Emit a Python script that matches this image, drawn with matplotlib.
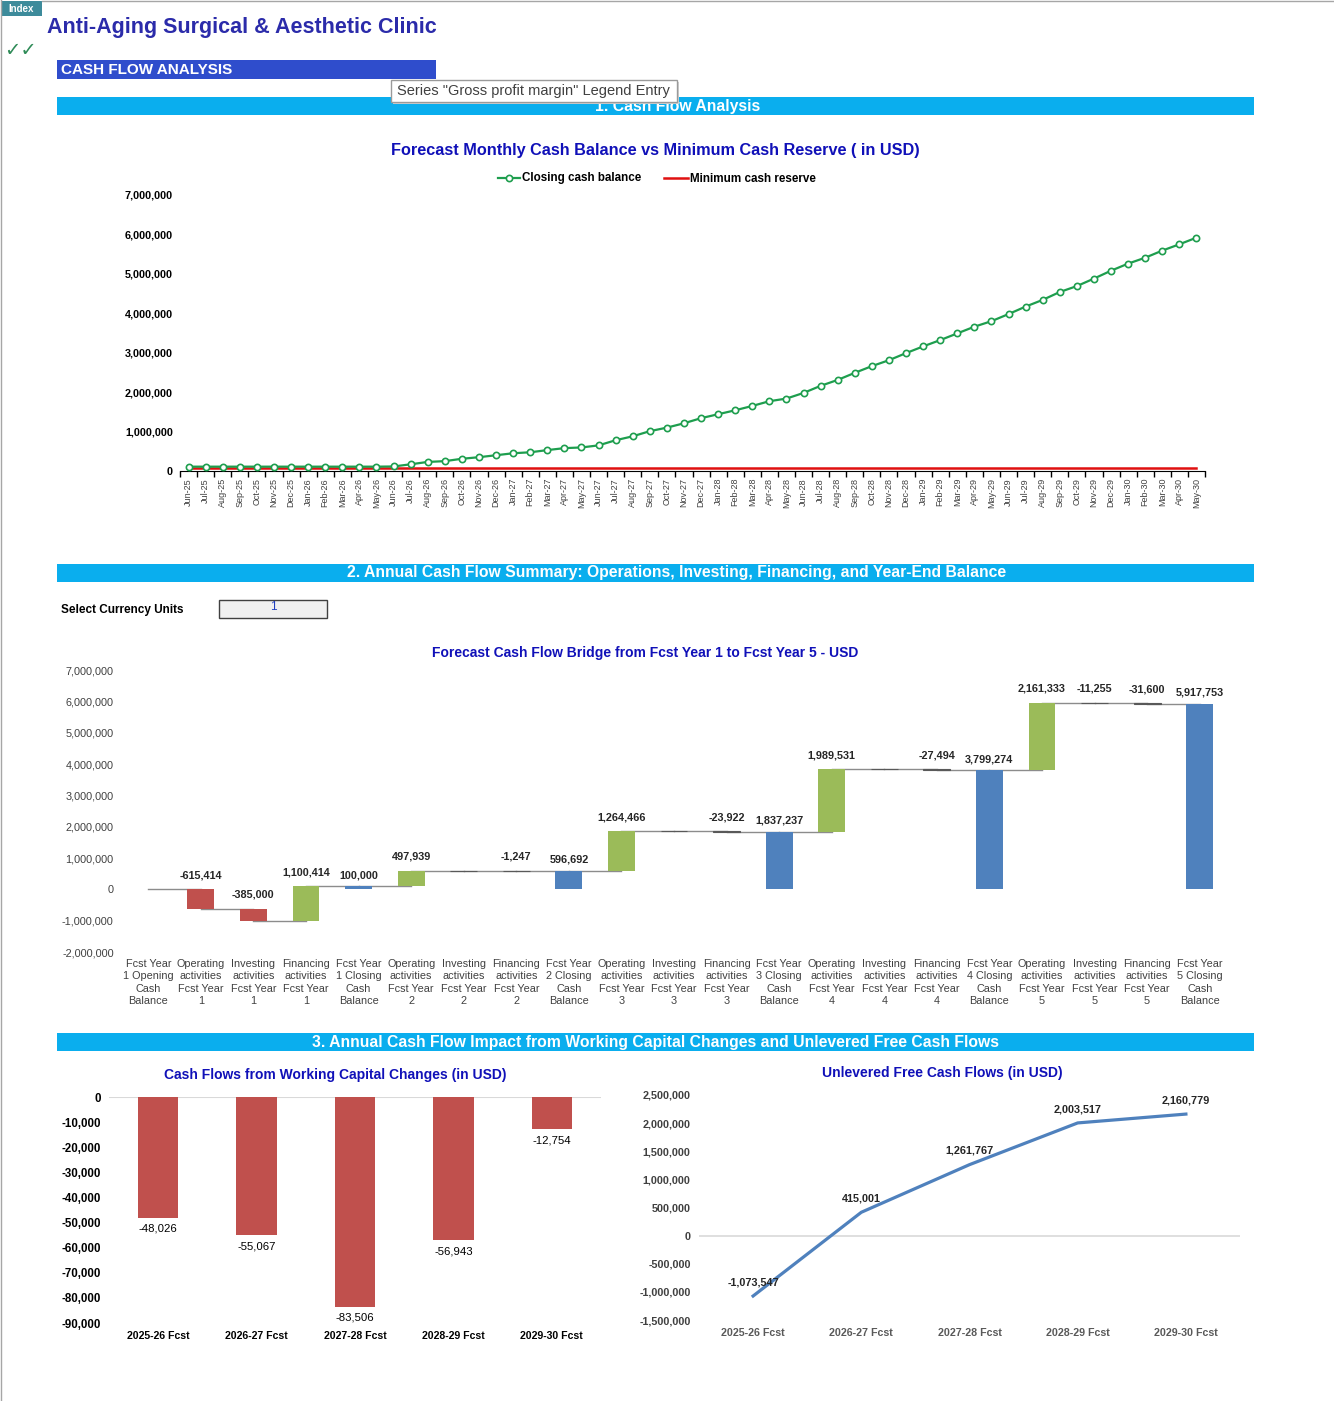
import numpy as np
import pandas as pd
import matplotlib
matplotlib.use('Agg')
import matplotlib.pyplot as plt
from matplotlib.patches import Rectangle
from matplotlib.ticker import FuncFormatter

plt.rcParams['font.family'] = ['Liberation Sans', 'DejaVu Sans']

# ---- data ----
months = list(pd.date_range('2025-06-01', periods=60, freq='MS').strftime('%b-%y'))
closing_cash = [
    110000, 110000, 110000, 110000, 110000, 110000, 110000, 110000, 110000, 110000, 110000, 110000,
    115000, 170000, 230000, 250000, 310000, 350000, 400000, 450000, 475000, 530000, 580000, 597000,
    650000, 780000, 880000, 1010000, 1100000, 1210000, 1340000, 1440000, 1540000, 1650000, 1770000, 1837000,
    1980000, 2160000, 2310000, 2490000, 2660000, 2810000, 2990000, 3160000, 3320000, 3490000, 3660000, 3800000,
    3980000, 4170000, 4340000, 4540000, 4690000, 4880000, 5080000, 5260000, 5410000, 5590000, 5750000, 5918000,
]
min_reserve = [75000] * 60

bridge_labels = [
    'Fcst Year\n1 Opening\nCash\nBalance', 'Operating\nactivities\nFcst Year\n1', 'Investing\nactivities\nFcst Year\n1',
    'Financing\nactivities\nFcst Year\n1', 'Fcst Year\n1 Closing\nCash\nBalance',
    'Operating\nactivities\nFcst Year\n2', 'Investing\nactivities\nFcst Year\n2', 'Financing\nactivities\nFcst Year\n2',
    'Fcst Year\n2 Closing\nCash\nBalance',
    'Operating\nactivities\nFcst Year\n3', 'Investing\nactivities\nFcst Year\n3', 'Financing\nactivities\nFcst Year\n3',
    'Fcst Year\n3 Closing\nCash\nBalance',
    'Operating\nactivities\nFcst Year\n4', 'Investing\nactivities\nFcst Year\n4', 'Financing\nactivities\nFcst Year\n4',
    'Fcst Year\n4 Closing\nCash\nBalance',
    'Operating\nactivities\nFcst Year\n5', 'Investing\nactivities\nFcst Year\n5', 'Financing\nactivities\nFcst Year\n5',
    'Fcst Year\n5 Closing\nCash\nBalance',
]
bridge_values = [0, -615414, -385000, 1100414, 100000, 497939, 0, -1247, 596692,
                 1264466, 0, -23922, 1837237, 1989531, 0, -27494, 3799274,
                 2161333, -11255, -31600, 5917753]
bridge_total = [True, False, False, False, True, False, False, False, True,
                False, False, False, True, False, False, False, True,
                False, False, False, True]

years = ['2025-26 Fcst', '2026-27 Fcst', '2027-28 Fcst', '2028-29 Fcst', '2029-30 Fcst']
wc_changes = [-48026, -55067, -83506, -56943, -12754]
ufcf = [-1073547, 415001, 1261767, 2003517, 2160779]

# ---- figure / layout helpers ----
W, H = 1334, 1401
fig = plt.figure(figsize=(W / 100, H / 100), dpi=100)


def box(x0, y0, x1, y1):
    return [x0 / W, 1 - y1 / H, (x1 - x0) / W, (y1 - y0) / H]


fmt = FuncFormatter(lambda v, p: '{:,.0f}'.format(v))
title_blue = '#1010B8'
cyan = '#0AAEEE'

bg = fig.add_axes([0, 0, 1, 1])
bg.set_xlim(0, W)
bg.set_ylim(H, 0)
bg.axis('off')

# sheet decorations
bg.plot([0.5, 0.5], [0, H], color='#A6A6A6', lw=1)
bg.plot([42, W], [0.5, 0.5], color='#A6A6A6', lw=1)
bg.add_patch(Rectangle((1, 1), 41, 15, fc='#3D8B9B', ec='none'))
bg.text(21, 9, 'Index', color='white', fontsize=7, fontweight='bold', ha='center', va='center')
bg.text(47, 27, 'Anti-Aging Surgical & Aesthetic Clinic', color='#2B2BAA', fontsize=15.5,
        fontweight='bold', va='center')
bg.text(4, 50, '\u2713\u2713', color='#2E8B57', fontsize=14, va='center', family='DejaVu Sans')
bg.add_patch(Rectangle((57, 60), 379, 19, fc='#2F4DCC', ec='none'))
bg.text(61, 70, 'CASH FLOW ANALYSIS', color='white', fontsize=11, fontweight='bold', va='center')

sections = [(97, 678, '1. Cash Flow Analysis'),
            (564, 677, '2. Annual Cash Flow Summary: Operations, Investing, Financing, and Year-End Balance'),
            (1033, 656, '3. Annual Cash Flow Impact from Working Capital Changes and Unlevered Free Cash Flows')]
for y, xc, txt in sections:
    bg.add_patch(Rectangle((57, y), 1197, 18, fc=cyan, ec='none'))
    bg.text(xc, y + 9, txt, color='white', fontsize=11.3, fontweight='bold', ha='center', va='center')

# tooltip
bg.add_patch(Rectangle((393, 82), 286, 22, fc='#D0D0D0', ec='none', zorder=4))
bg.add_patch(Rectangle((391, 80), 286, 22, fc='white', ec='#9A9A9A', lw=1, zorder=5))
bg.text(397, 91.5, 'Series "Gross profit margin" Legend Entry', color='#404040', fontsize=10.5,
        va='center', zorder=6)

# chart titles
bg.text(655, 151, 'Forecast Monthly Cash Balance vs Minimum Cash Reserve ( in USD)', color=title_blue,
        fontsize=11.7, fontweight='bold', ha='center', va='center')
bg.text(645, 653, 'Forecast Cash Flow Bridge from Fcst Year 1 to Fcst Year 5 - USD', color=title_blue,
        fontsize=10, fontweight='bold', ha='center', va='center')
bg.text(335, 1075, 'Cash Flows from Working Capital Changes (in USD)', color=title_blue,
        fontsize=10, fontweight='bold', ha='center', va='center')
bg.text(942, 1073, 'Unlevered Free Cash Flows (in USD)', color=title_blue,
        fontsize=10, fontweight='bold', ha='center', va='center')

# legend chart 1
green = '#1E9E4E'
red = '#E01010'
bg.plot([498, 520], [178, 178], color=green, lw=1.6)
bg.plot([509], [178], marker='o', ms=4.5, mfc='white', mec=green, mew=1.2)
bg.text(522, 178.5, 'Closing cash balance', fontsize=8.4, fontweight='bold', va='center')
bg.plot([664, 688], [178, 178], color=red, lw=1.8)
bg.text(690, 178.5, 'Minimum cash reserve', fontsize=8.4, fontweight='bold', va='center')

# currency selector
bg.text(61, 610, 'Select Currency Units', fontsize=8.5, fontweight='bold', va='center')
bg.add_patch(Rectangle((219, 600), 108, 18, fc='#F0F0F0', ec='#404040', lw=1))
bg.text(273, 607.5, '1', color='#1F3FBF', fontsize=8.5, ha='center', va='center')

# ---- chart 1: monthly cash balance ----
ax1 = fig.add_axes(box(180, 195, 1205, 471))
x = np.arange(len(months))
ax1.plot(x, min_reserve, color=red, lw=1.8, zorder=2)
ax1.plot(x, closing_cash, color=green, lw=1.6, marker='o', ms=4.5, mfc='white', mec=green,
         mew=1.2, zorder=3, clip_on=False)
ax1.set_xlim(-0.5, len(months) - 0.5)
ax1.set_ylim(0, 7000000)
ax1.set_yticks(np.arange(0, 7000001, 1000000))
ax1.yaxis.set_major_formatter(fmt)
ax1.set_xticks(x)
ax1.set_xticklabels(months, rotation=90, fontsize=6.5, color='#404040')
ax1.set_xticks(np.arange(-0.5, len(months), 1), minor=True)
ax1.tick_params(axis='x', which='major', length=0, pad=5)
ax1.tick_params(axis='x', which='minor', length=4, color='black', width=1)
ax1.tick_params(axis='y', length=0, pad=5, labelsize=7.8)
for lab in ax1.get_yticklabels():
    lab.set_fontweight('bold')
for s in ['left', 'top', 'right']:
    ax1.spines[s].set_visible(False)
ax1.spines['bottom'].set_color('black')
ax1.patch.set_alpha(0)

# ---- chart 2: cash flow bridge ----
ax2 = fig.add_axes(box(122, 670, 1226, 952))
running = 0
levels = []
for i, (v, tot) in enumerate(zip(bridge_values, bridge_total)):
    if tot:
        bottom = 0
        running = v
        col = '#4F81BD'
    else:
        bottom = running
        running += v
        col = '#9BBB59' if v >= 0 else '#C0504D'
    levels.append(running)
    if i == 0:
        continue
    if abs(v) < 50000:
        # tiny movements show up as a dark sliver on the connector
        ax2.bar(i, v, bottom=bottom, width=0.51, color='#595959', edgecolor='#595959', lw=0.8, zorder=3)
    else:
        ax2.bar(i, v, bottom=bottom, width=0.51, color=col, zorder=3)
    if v != 0:
        top = max(bottom, bottom + v)
        off = 8 if tot else 10
        ax2.annotate('{:,.0f}'.format(v), (i, top), xytext=(0, off), textcoords='offset points',
                     ha='center', va='center', fontsize=7.8, fontweight='bold', color='#262626')
for i in range(len(levels) - 1):
    ax2.plot([i, i + 1], [levels[i], levels[i]], color='#8C8C8C', lw=1, zorder=2)
ax2.set_xlim(-0.5, len(bridge_values) - 0.5)
ax2.set_ylim(-2000000, 7000000)
ax2.set_yticks(np.arange(-2000000, 7000001, 1000000))
ax2.yaxis.set_major_formatter(fmt)
ax2.set_xticks(np.arange(len(bridge_labels)))
ax2.set_xticklabels(bridge_labels, fontsize=7.8, color='#404040', linespacing=1.3)
ax2.tick_params(axis='x', length=0, pad=5)
ax2.tick_params(axis='y', length=0, pad=6, labelsize=7.8, labelcolor='#404040')
for s in ax2.spines.values():
    s.set_visible(False)
ax2.patch.set_alpha(0)

# ---- chart 3: working capital changes ----
ax3 = fig.add_axes(box(109, 1097, 601, 1323))
xi = np.arange(len(years))
ax3.axhline(0, color='#D9D9D9', lw=1.5, zorder=1)
ax3.bar(xi, wc_changes, width=0.41, color='#C0504D', zorder=2)
for i, v in enumerate(wc_changes):
    ax3.annotate('{:,.0f}'.format(v), (i, v), xytext=(0, -8), textcoords='offset points',
                 ha='center', va='center', fontsize=8.2, color='black')
ax3.set_xlim(-0.5, len(years) - 0.5)
ax3.set_ylim(-90000, 0)
ax3.set_yticks(np.arange(-90000, 1, 10000))
ax3.yaxis.set_major_formatter(fmt)
ax3.set_xticks(xi)
ax3.set_xticklabels(years, fontsize=7.6, fontweight='bold')
ax3.tick_params(axis='x', length=0, pad=6)
ax3.tick_params(axis='y', length=0, pad=6, labelsize=8.3)
for lab in ax3.get_yticklabels():
    lab.set_fontweight('bold')
for s in ax3.spines.values():
    s.set_visible(False)
ax3.patch.set_alpha(0)

# ---- chart 4: unlevered free cash flows ----
ax4 = fig.add_axes(box(699, 1095, 1240, 1320))
ax4.axhline(0, color='#D9D9D9', lw=1.2, zorder=1)
ax4.plot(xi, ufcf, color='#4F81BD', lw=2.3, zorder=2)
for i, v in enumerate(ufcf):
    ax4.annotate('{:,.0f}'.format(v), (i, v), xytext=(0, 10), textcoords='offset points',
                 ha='center', va='center', fontsize=7.8, fontweight='bold', color='#262626')
ax4.set_xlim(-0.5, len(years) - 0.5)
ax4.set_ylim(-1500000, 2500000)
ax4.set_yticks(np.arange(-1500000, 2500001, 500000))
ax4.yaxis.set_major_formatter(fmt)
ax4.set_xticks(xi)
ax4.set_xticklabels(years, fontsize=7.7, fontweight='bold', color='#595959')
ax4.tick_params(axis='x', length=0, pad=6)
ax4.tick_params(axis='y', length=0, pad=6, labelsize=7.8, labelcolor='#404040')
for lab in ax4.get_yticklabels():
    lab.set_fontweight('bold')
for s in ax4.spines.values():
    s.set_visible(False)
ax4.patch.set_alpha(0)

fig.savefig('out.png', dpi=100)
